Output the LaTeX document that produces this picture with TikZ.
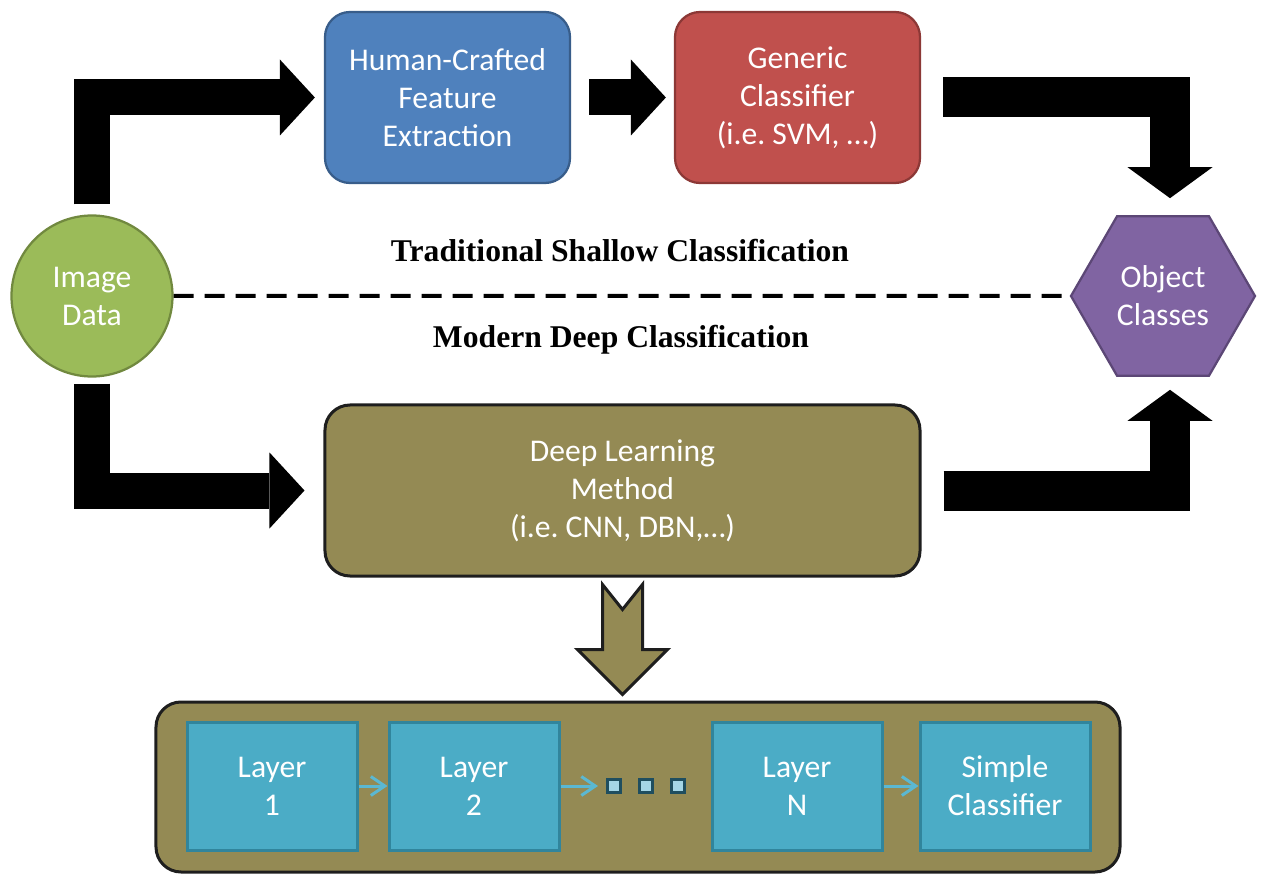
\documentclass[tikz,border=0pt]{standalone}
\usepackage{fontspec}
\setmainfont{Carlito}
\newfontfamily\headfont{Liberation Serif}
\usetikzlibrary{shapes.geometric,arrows.meta,calc}

\definecolor{imggreen}{HTML}{9BBB59}
\definecolor{imgline}{HTML}{71893F}
\definecolor{hceblue}{HTML}{4F81BD}
\definecolor{hceline}{HTML}{385D8A}
\definecolor{genred}{HTML}{C0504D}
\definecolor{genline}{HTML}{8C3836}
\definecolor{objpurple}{HTML}{8064A2}
\definecolor{objline}{HTML}{5C4776}
\definecolor{olive}{HTML}{948A54}
\definecolor{oliveline}{HTML}{1E1E1E}
\definecolor{layerfill}{HTML}{4BACC6}
\definecolor{layerline}{HTML}{31859C}
\definecolor{layerarrow}{HTML}{5BB8D2}
\definecolor{dotfill}{HTML}{A5D6E6}
\definecolor{dotline}{HTML}{1F4E5F}

\begin{document}
\begin{tikzpicture}[x=0.2mm,y=-0.2mm,
  every node/.style={font=\fontsize{18}{21.6}\selectfont,text=white,align=center,inner sep=0pt},
  block/.style={rounded corners=5mm,line width=0.45mm,minimum width=49mm,minimum height=34.2mm},
  olivebox/.style={rounded corners=5mm,fill=olive,draw=oliveline,line width=0.6mm},
  layer/.style={fill=layerfill,draw=layerline,line width=0.6mm,minimum width=34mm,minimum height=25.6mm},
  dotbox/.style={fill=dotfill,draw=dotline,line width=0.6mm,minimum size=2.6mm},
  heading/.style={text=black,font=\headfont\bfseries\fontsize{18}{21.6}\selectfont},
  bigarrow/.style={line width=7.2mm,-{Triangle[length=7mm,width=15.2mm,line width=0pt]}},
  widearrow/.style={line width=8mm,-{Triangle[length=6.2mm,width=17mm,line width=0pt]}},
  smallarrow/.style={draw=layerarrow,line width=0.6mm,-{Straight Barb[length=2.8mm,width=3.8mm]}}
]
\useasboundingbox (0,0) rectangle (1267,889);

\node[circle,fill=imggreen,draw=imgline,line width=0.45mm,minimum size=32.2mm] (img) at (92,296) {Image\\Data};
\node[block,fill=hceblue,draw=hceline] (hce) at (447.5,97.5) {Human-Crafted\\Feature\\Extraction};
\node[block,fill=genred,draw=genline] (gen) at (797.5,97.5) {Generic\\Classifier\\(i.e.\ SVM, …)};
\node[regular polygon,regular polygon sides=6,minimum size=36.8mm,fill=objpurple,draw=objline,line width=0.45mm] (obj) at (1163,296) {Object\\Classes};
\node[olivebox,minimum width=119mm,minimum height=34.2mm] (dl) at (622.5,490.5) {Deep Learning\\Method\\(i.e.\ CNN, DBN,…)};

\node[heading] (shallow) at (620,251) {Traditional Shallow Classification};
\node[heading] (deep) at (621,340) {Modern Deep Classification};
\draw[line width=0.8mm,dash pattern=on 4mm off 2.2mm] (img) -- (obj);

% shallow path
\draw[bigarrow,shorten <=2mm,shorten >=1.8mm] (img.north) |- (hce.west);
\draw[bigarrow,shorten <=3.6mm,shorten >=1.6mm] (hce) -- (gen);
\draw[widearrow,shorten <=4.4mm,shorten >=3.4mm] (gen.east) -| ($(obj.north)+(7,0)$);

% deep path
\draw[bigarrow,shorten <=1.2mm,shorten >=3.8mm] (img.south) |- (dl.west);
\draw[widearrow,shorten <=4.4mm,shorten >=2.6mm] (dl.east) -| ($(obj.south)+(7,0)$);
\draw[fill=olive,draw=oliveline,line width=0.6mm,line join=miter] ($(dl.south)+(-20,7)$) -- ++(20,25) -- ++(20,-25) -- ++(0,65) -- ++(25,0) -- ++(-45,45) -- ++(-45,-45) -- ++(25,0) -- cycle;

% layers
\node[olivebox,minimum width=192.8mm,minimum height=34mm] (net) at (638,787) {};
\node[layer] (l1) at (272,786) {Layer\\1};
\node[layer] (l2) at (474,786) {Layer\\2};
\node[layer] (ln) at (797,786) {Layer\\N};
\node[layer] (sc) at (1005,786) {Simple\\Classifier};
\foreach \i/\x in {1/614,2/646,3/678}
  \node[dotbox] (d\i) at (\x,786) {};
\draw[smallarrow] (l1) -- (l2);
\draw[smallarrow,shorten >=1.6mm] (l2) -- (d1);
\draw[smallarrow] (ln) -- (sc);
\end{tikzpicture}
\end{document}
